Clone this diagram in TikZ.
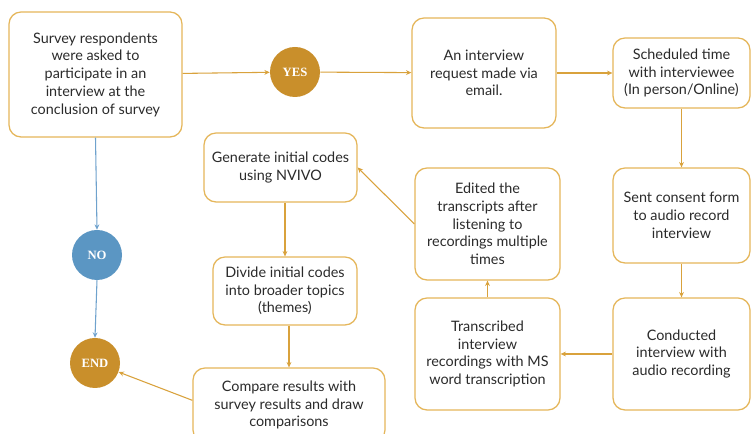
\documentclass[tikz,border=0pt]{standalone}
\usepackage{fontspec}
\setmainfont{Lato}
\newfontfamily\circfont{Liberation Serif}
\usetikzlibrary{arrows.meta}
\definecolor{boxline}{HTML}{E5B65A}
\definecolor{arrowc}{HTML}{D9A23C}
\definecolor{goldfill}{HTML}{C98F2B}
\definecolor{bluefill}{HTML}{5B96C3}
\definecolor{bluearrow}{HTML}{6FA2CD}
\definecolor{textc}{HTML}{2B2B2B}
\tikzset{
  box/.style={draw=boxline, line width=0.95pt, rounded corners=9pt, fill=white,
    align=center, text=textc, font=\fontsize{10.8}{13.3}\selectfont, inner sep=2pt},
  circ/.style={circle, minimum size=37.5pt, inner sep=0pt, text=white,
    font=\circfont\bfseries\fontsize{9.5}{11}\selectfont},
  garrow/.style={draw=arrowc, line width=0.8pt, -{Stealth[length=4pt,width=3.6pt]}},
  barrow/.style={draw=bluearrow, line width=0.8pt, -{Stealth[length=4pt,width=3.6pt]}}
}
\begin{document}
\begin{tikzpicture}[x=0.75pt, y=-0.75pt]
\useasboundingbox (0,0) rectangle (751,434);
\fill[white] (0,0) rectangle (751,434);
\node[box, minimum width=129.75pt, minimum height=93.75pt] (survey) at (95.5,74.5)
  {Survey respondents\\were asked to\\participate in an\\interview at the\\conclusion of survey};
\node[circ, fill=goldfill] (yes) at (295,72) {YES};
\node[box, minimum width=108pt, minimum height=82.5pt] (req) at (484,73)
  {An interview\\request made via\\email.};
\node[box, minimum width=102.75pt, minimum height=52.5pt] (sched) at (681.5,73)
  {Scheduled time\\with interviewee\\(In person/Online)};
\node[box, minimum width=102.75pt, minimum height=71.25pt] (sent) at (681.5,215.5)
  {Sent consent form\\to audio record\\interview};
\node[box, minimum width=102.75pt, minimum height=84pt] (cond) at (681.5,354)
  {Conducted\\interview with\\audio recording};
\node[box, minimum width=108.75pt, minimum height=84pt] (trans) at (487.5,354)
  {Transcribed\\interview\\recordings with MS\\word transcription};
\node[box, minimum width=108.75pt, minimum height=84pt] (edit) at (487.5,224)
  {Edited the\\transcripts after\\listening to\\recordings multiple\\times};
\node[box, minimum width=114.75pt, minimum height=51.75pt] (gen) at (280.5,167.5)
  {Generate initial codes\\using NVIVO};
\node[box, minimum width=108pt, minimum height=51pt] (div) at (285,291)
  {Divide initial codes\\into broader topics\\(themes)};
\node[box, minimum width=144pt, minimum height=55.5pt] (comp) at (289,405)
  {Compare results with\\survey results and draw\\comparisons};
\node[circ, fill=bluefill] (no) at (97,255) {NO};
\node[circ, fill=goldfill] (end) at (95,363) {END};

\draw[garrow] (survey) -- (yes);
\draw[garrow] (yes) -- (req);
\draw[garrow] (req) -- (sched);
\draw[garrow] (sched.south) -- (sent.north);
\draw[garrow] (sent.south) -- (cond.north);
\draw[garrow] (cond.west) -- (trans.east);
\draw[garrow] (trans.north) -- (edit.south);
\draw[garrow] (edit.west) -- (gen.east);
\draw[garrow] (gen.south -| div.north) -- (div.north);
\draw[garrow] (div.south -| comp.north) -- (comp.north);
\draw[garrow] ([yshift=3.5pt]comp.west) -- (end);
\draw[barrow] (survey.south) -- (no.north);
\draw[barrow] (no.south) -- (end.north);
\end{tikzpicture}
\end{document}
